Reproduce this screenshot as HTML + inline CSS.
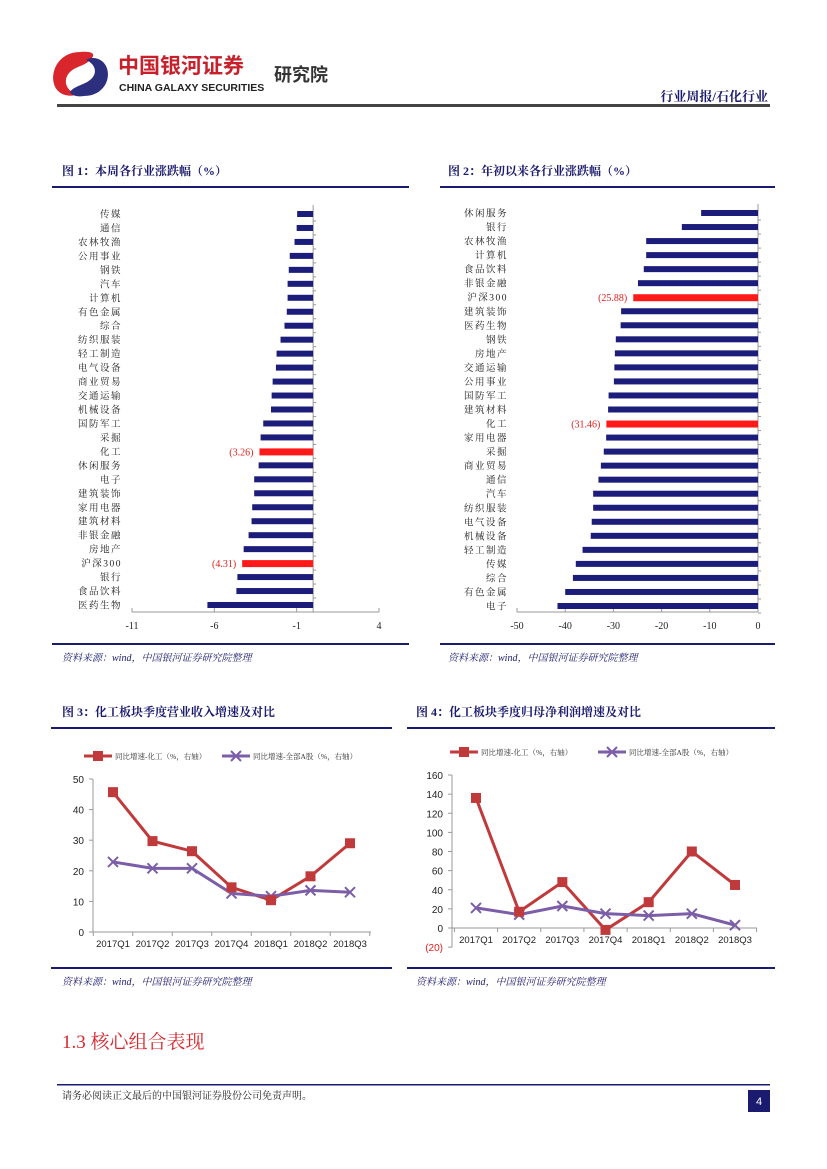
<!DOCTYPE html>
<html><head><meta charset="utf-8">
<style>
html,body{margin:0;padding:0;background:#fff;}
svg{display:block;font-family:"Liberation Serif","Noto Serif CJK SC",serif;}
</style></head>
<body>
<svg id="pg" width="827" height="1169" viewBox="0 0 827 1169" xmlns="http://www.w3.org/2000/svg">
<g>
  <g>
    <path d="M80 52 C60 52 50 70 54 84 C57 95 70 98 78 94 C66 92 62 80 70 72 C76 66 86 66 92 58 C96 53 90 51 80 52Z" fill="#d8262c"/>
    <path d="M84 96 C104 96 112 78 106 66 C102 58 92 56 86 60 C96 64 98 74 90 80 C84 85 74 86 70 92 C72 96 78 97 84 96Z" fill="#2b2f7e"/>
  </g>
  <text x="118" y="73" font-family="Liberation Sans,'Noto Sans CJK SC',sans-serif" font-size="21" font-weight="bold" fill="#c8202a">中国银河证券</text>
  <text x="119" y="91" font-family="Liberation Sans,sans-serif" font-size="10.5" font-weight="bold" fill="#222">CHINA GALAXY SECURITIES</text>
  <text x="274" y="81" font-family="Liberation Sans,'Noto Sans CJK SC',sans-serif" font-size="18" font-weight="bold" fill="#333">研究院</text>
  <text x="768" y="101" text-anchor="end" font-size="13" font-weight="bold" fill="#1a1a6e">行业周报/石化行业</text>
  <rect x="57" y="104" width="713" height="3" fill="#444"/>
</g>

<text x="62" y="175" font-size="12" font-weight="bold" fill="#1a1a6e">图 1：本周各行业涨跌幅（%）</text>
<rect x="52" y="186" width="357" height="2" fill="#1a1a6e"/>
<rect x="52" y="643" width="357" height="2" fill="#1a1a6e"/>
<text x="62" y="661" font-size="10" font-style="italic" fill="#1a1a6e">资料来源：wind，中国银河证券研究院整理</text>
<g id="c1"></g>

<text x="448" y="175" font-size="12" font-weight="bold" fill="#1a1a6e">图 2：年初以来各行业涨跌幅（%）</text>
<rect x="440" y="186" width="335" height="2" fill="#1a1a6e"/>
<rect x="440" y="643" width="335" height="2" fill="#1a1a6e"/>
<text x="448" y="661" font-size="10" font-style="italic" fill="#1a1a6e">资料来源：wind，中国银河证券研究院整理</text>
<g id="c2"></g>

<text x="62" y="716" font-size="12" font-weight="bold" fill="#1a1a6e">图 3：化工板块季度营业收入增速及对比</text>
<rect x="51" y="727" width="341" height="2" fill="#1a1a6e"/>
<rect x="51" y="967" width="341" height="2" fill="#1a1a6e"/>
<text x="62" y="985" font-size="10" font-style="italic" fill="#1a1a6e">资料来源：wind，中国银河证券研究院整理</text>
<g id="c3"></g>

<text x="416" y="716" font-size="12" font-weight="bold" fill="#1a1a6e">图 4：化工板块季度归母净利润增速及对比</text>
<rect x="407" y="727" width="368" height="2" fill="#1a1a6e"/>
<rect x="407" y="967" width="368" height="2" fill="#1a1a6e"/>
<text x="416" y="985" font-size="10" font-style="italic" fill="#1a1a6e">资料来源：wind，中国银河证券研究院整理</text>
<g id="c4"></g>

<text x="62" y="1048" font-size="19" fill="#d8262c">1.3  核心组合表现</text>

<rect x="57" y="1084" width="713" height="1.5" fill="#1a1a6e"/>
<text x="62" y="1099" font-size="10" fill="#222">请务必阅读正文最后的中国银河证券股份公司免责声明。</text>
<rect x="748" y="1090" width="22" height="22" fill="#1a1a6e"/>
<text x="759" y="1105" text-anchor="middle" font-family="Liberation Sans,sans-serif" font-size="11" fill="#fff">4</text>
</svg>
<script>
const NS="http://www.w3.org/2000/svg";
function mk(p,tag,a,txt){const e=document.createElementNS(NS,tag);for(const k in a)e.setAttribute(k,a[k]);if(txt!==undefined)e.textContent=txt;p.appendChild(e);return e;}

const c1Categories=["传媒","通信","农林牧渔","公用事业","钢铁","汽车","计算机","有色金属","综合","纺织服装","轻工制造","电气设备","商业贸易","交通运输","机械设备","国防军工","采掘","化工","休闲服务","电子","建筑装饰","家用电器","建筑材料","非银金融","房地产","沪深300","银行","食品饮料","医药生物"];
const c1Values=[-0.97,-1.0,-1.13,-1.42,-1.48,-1.55,-1.55,-1.6,-1.74,-1.98,-2.22,-2.26,-2.46,-2.52,-2.56,-3.03,-3.19,-3.26,-3.31,-3.58,-3.58,-3.7,-3.74,-3.92,-4.22,-4.31,-4.6,-4.66,-6.42];
const c1Ticks=[-11,-6,-1,4];
const c1Highlight=["化工","沪深300"];

const c2Categories=["休闲服务","银行","农林牧渔","计算机","食品饮料","非银金融","沪深300","建筑装饰","医药生物","钢铁","房地产","交通运输","公用事业","国防军工","建筑材料","化工","家用电器","采掘","商业贸易","通信","汽车","纺织服装","电气设备","机械设备","轻工制造","传媒","综合","有色金属","电子"];
const c2Values=[-11.8,-15.8,-23.2,-23.2,-23.7,-24.9,-25.88,-28.4,-28.5,-29.5,-29.7,-29.8,-29.9,-31.0,-31.1,-31.46,-31.5,-32.0,-32.6,-33.1,-34.2,-34.2,-34.5,-34.7,-36.4,-37.8,-38.4,-40.0,-41.6];
const c2Ticks=[-50,-40,-30,-20,-10,0];
const c2Highlight=["沪深300","化工"];

const quarters=["2017Q1","2017Q2","2017Q3","2017Q4","2018Q1","2018Q2","2018Q3"];
const c3Chem=[45.7,29.7,26.4,14.6,10.4,18.2,29.0];
const c3All=[22.9,20.8,20.8,12.6,11.7,13.6,13.0];
const c3Ticks=[0,10,20,30,40,50];
const c4Chem=[136,17,48,-2,27,80,45];
const c4All=[21,14,23,15,13,15,3];
const c4Ticks=[-20,0,20,40,60,80,100,120,140,160];
const legendChem="同比增速-化工（%，右轴）";
const legendAll="同比增速-全部A股（%，右轴）";

function hbar(g,name,cats,vals,ticks,hl,o){
  const x=v=>o.x0+(v-o.vmin)/(o.vmax-o.vmin)*(o.x1-o.x0);
  const step=(o.yLast-o.yFirst)/(cats.length-1);
  const y=i=>o.yFirst+i*step;
  const ax=mk(g,"line",{x1:x(0),x2:x(0),y1:o.yFirst-step/2-2,y2:o.axisY,stroke:"#999","stroke-width":1});
  
  
  const xa=mk(g,"line",{x1:x(o.vmin),x2:x(o.vmax),y1:o.axisY,y2:o.axisY,stroke:"#999","stroke-width":1});
  
  
  ticks.forEach(t=>{
    const tk=mk(g,"line",{x1:x(t),x2:x(t),y1:o.axisY,y2:o.axisY-4,stroke:"#999"});
    
    
    const tl=mk(g,"text",{x:x(t),y:o.axisY+17,"text-anchor":"middle","font-size":10,fill:"#222"},String(t));
    
    
  });
  for(let i=0;i<cats.length;i++){const yy=y(i);
    const gy=mk(g,"line",{x1:x(0),x2:x(0)+3,y1:yy+step/2,y2:yy+step/2,stroke:"#999"});
    
    
  }
  cats.forEach((c,i)=>{
    const v=vals[i],yy=y(i),red=hl.includes(c);
    const lb=mk(g,"text",{x:o.labelX,y:yy+3.5,"text-anchor":"end","font-size":9.5,"letter-spacing":"1.5",fill:"#222"},c);
    
    
    const r=mk(g,"rect",{x:x(v),y:yy-3,width:x(0)-x(v),height:red?7:6,fill:red?"#ff1a1a":"#1c1c7a"});
    
    
    if(red){
      const vl=mk(g,"text",{x:x(v)-6,y:yy+4,"text-anchor":"end","font-size":10,fill:"#e0201e"},"("+Math.abs(v).toFixed(2)+")");
      
      
    }
  });
}
hbar(document.getElementById("c1"),"chart1",c1Categories,c1Values,c1Ticks,c1Highlight,{x0:132,x1:379,vmin:-11,vmax:4,yFirst:214,yLast:605,axisY:612,labelX:122});
hbar(document.getElementById("c2"),"chart2",c2Categories,c2Values,c2Ticks,c2Highlight,{x0:517,x1:758,vmin:-50,vmax:0,yFirst:213,yLast:606,axisY:612,labelX:508});

function marker(g,name,type,cx,cy,color){
  let m;
  if(type==="sq"){m=mk(g,"rect",{x:cx-5,y:cy-5,width:10,height:10,fill:color});}
  else{m=mk(g,"path",{d:`M${cx-5} ${cy-5}L${cx+5} ${cy+5}M${cx-5} ${cy+5}L${cx+5} ${cy-5}`,stroke:color,"stroke-width":2});}
  
  
}
function linechart(g,name,s1,s2,ticks,o){
  const n=quarters.length;
  const x=i=>o.cx0+i*(o.cx1-o.cx0)/(n-1);
  const y=v=>o.y0-(v)/(o.vtop)*(o.y0-o.ytop);
  const RED="#c0393b",PUR="#7b5ea7";
  const l1=mk(g,"line",{x1:o.lg1,x2:o.lg1+28,y1:o.ly,y2:o.ly,stroke:RED,"stroke-width":3});
  
  
  marker(g,name+'-legend-chem-marker',"sq",o.lg1+14,o.ly,RED);
  const t1=mk(g,"text",{x:o.lg1+31,y:o.ly+3,"font-size":7.5,fill:"#333"},legendChem);
  
  
  const l2=mk(g,"line",{x1:o.lg2,x2:o.lg2+28,y1:o.ly,y2:o.ly,stroke:PUR,"stroke-width":3});
  
  
  marker(g,name+'-legend-all-marker',"x",o.lg2+14,o.ly,PUR);
  const t2=mk(g,"text",{x:o.lg2+31,y:o.ly+3,"font-size":7.5,fill:"#333"},legendAll);
  
  
  const ya=mk(g,"line",{x1:o.ax,x2:o.ax,y1:y(ticks[ticks.length-1]),y2:y(ticks[0]),stroke:"#999"});
  
  
  const xa=mk(g,"line",{x1:o.ax,x2:o.axEnd,y1:y(0),y2:y(0),stroke:"#999"});
  
  
  const half=(o.cx1-o.cx0)/(n-1)/2;
  for(let i=0;i<=n;i++){
    const tx=o.cx0-half+i*half*2;
    const tk=mk(g,"line",{x1:tx,x2:tx,y1:y(0),y2:y(0)+4,stroke:"#999"});
    
    
  }
  ticks.forEach(t=>{
    const tk=mk(g,"line",{x1:o.ax-4,x2:o.ax,y1:y(t),y2:y(t),stroke:"#999"});
    
    
    const tl=mk(g,"text",{x:o.ax-9,y:y(t)+4,"text-anchor":"end","font-family":"Liberation Sans,sans-serif","font-size":10,fill:t<0?"#e0201e":"#222"},t<0?"("+Math.abs(t)+")":String(t));
    
    
  });
  quarters.forEach((q,i)=>{
    const ql=mk(g,"text",{x:x(i),y:o.labY,"text-anchor":"middle","font-family":"Liberation Sans,sans-serif","font-size":9.5,fill:"#222"},q);
    
    
  });
  const p1=mk(g,"polyline",{points:s1.map((v,i)=>x(i)+","+y(v)).join(" "),fill:"none",stroke:RED,"stroke-width":3});
  
  
  const p2=mk(g,"polyline",{points:s2.map((v,i)=>x(i)+","+y(v)).join(" "),fill:"none",stroke:PUR,"stroke-width":3});
  
  
  s2.forEach((v,i)=>marker(g,name+'-all-point',"x",x(i),y(v),PUR));
  s1.forEach((v,i)=>marker(g,name+'-chem-point',"sq",x(i),y(v),RED));
}
linechart(document.getElementById("c3"),"chart3",c3Chem,c3All,c3Ticks,{cx0:113,cx1:350,y0:932,ytop:779,vtop:50,ax:93,axEnd:371,labY:947,lg1:84,lg2:222,ly:756});
linechart(document.getElementById("c4"),"chart4",c4Chem,c4All,c4Ticks,{cx0:476,cx1:735,y0:928,ytop:775,vtop:160,ax:452,axEnd:757,labY:943,lg1:450,lg2:598,ly:752});
</script>
</body></html>
